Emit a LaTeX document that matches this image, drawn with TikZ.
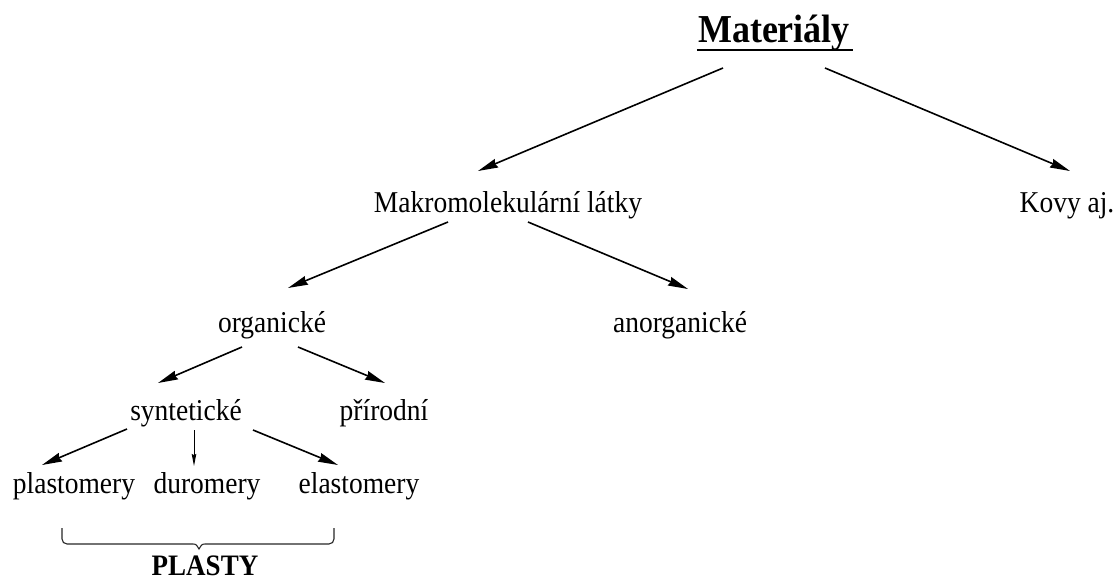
\documentclass[tikz,border=0pt]{standalone}
\usepackage{fontspec}
\usepackage{graphicx}
\setmainfont{Liberation Serif}
\usetikzlibrary{arrows.meta,calc}
\newcommand\vst[1]{\scalebox{1}[1.1]{#1}}
\tikzset{
  lbl/.style={anchor=base,inner sep=0pt,font=\fontsize{27.5}{32}\selectfont},
  ttl/.style={anchor=base,inner sep=0pt,font=\fontsize{36}{42}\selectfont\bfseries},
  plst/.style={anchor=base,inner sep=0pt,font=\fontsize{27}{32}\selectfont\bfseries},
  arr/.style={line width=1.6pt,-{Stealth[length=20pt,width=9pt,inset=1.5pt]}},
  sarr/.style={line width=1pt,-{Stealth[length=12pt,width=4.5pt,inset=1pt]}},
  brc/.style={line width=1.1pt,draw=black!85}
}
\begin{document}
\begin{tikzpicture}[x=1pt,y=-1pt]
\useasboundingbox (0,0) rectangle (1120,581);
\node[ttl] (mat) at (774,42) {\vst{Materiály}};
\node[lbl] (makro) at (508,212) {\vst{Makromolekulární látky}};
\node[lbl] (kovy) at (1067,212) {\vst{Kovy aj.}};
\node[lbl] (org) at (272,332) {\vst{organické}};
\node[lbl] (anorg) at (680,332) {\vst{anorganické}};
\node[lbl] (synt) at (186,420) {\vst{syntetické}};
\node[lbl] (prir) at (384,420) {\vst{přírodní}};
\node[lbl] (plast) at (74,493) {\vst{plastomery}};
\node[lbl] (duro) at (207,493) {\vst{duromery}};
\node[lbl] (elast) at (359,493) {\vst{elastomery}};
\node[plst] (plasty) at (205,575) {\vst{PLASTY}};
\draw[line width=1.5pt] ($(mat.base west)+(-1,8)$) -- ($(mat.base east)+(3,8)$);
% arrow end points
\coordinate (m1) at (723,68);  \coordinate (k1) at (478,171);
\coordinate (m2) at (825,68);  \coordinate (k2) at (1070,171);
\coordinate (n1) at (448,222); \coordinate (o1) at (288,288);
\coordinate (n2) at (528,222); \coordinate (a1) at (688,289);
\coordinate (g1) at (242,347); \coordinate (s1) at (158,383);
\coordinate (g2) at (298,347); \coordinate (p1) at (385,383);
\coordinate (t1) at (127,429); \coordinate (l1) at (42,465);
\coordinate (t2) at (194,430); \coordinate (d1) at (194,466);
\coordinate (t3) at (253,430); \coordinate (e1) at (338,465);
\draw[arr] (m1) -- (k1);
\draw[arr] (m2) -- (k2);
\draw[arr] (n1) -- (o1);
\draw[arr] (n2) -- (a1);
\draw[arr] (g1) -- (s1);
\draw[arr] (g2) -- (p1);
\draw[arr] (t1) -- (l1);
\draw[sarr] (t2) -- (d1);
\draw[arr] (t3) -- (e1);
% brace under the three plastics
\coordinate (b1) at (62,528);
\coordinate (b2) at (334,528);
\coordinate (bt) at (199,549);
\draw[brc] (b1) -- ++(0,11) arc[start angle=180,end angle=90,x radius=5pt,y radius=-5pt]
  -- ($(bt)+(-7,-5)$) .. controls ($(bt)+(-3,-5)$) .. (bt)
  .. controls ($(bt)+(3,-5)$) .. ($(bt)+(7,-5)$) -- ($(b2)+(-5,16)$)
  arc[start angle=90,end angle=0,x radius=5pt,y radius=-5pt] -- (b2);
\end{tikzpicture}
\end{document}
